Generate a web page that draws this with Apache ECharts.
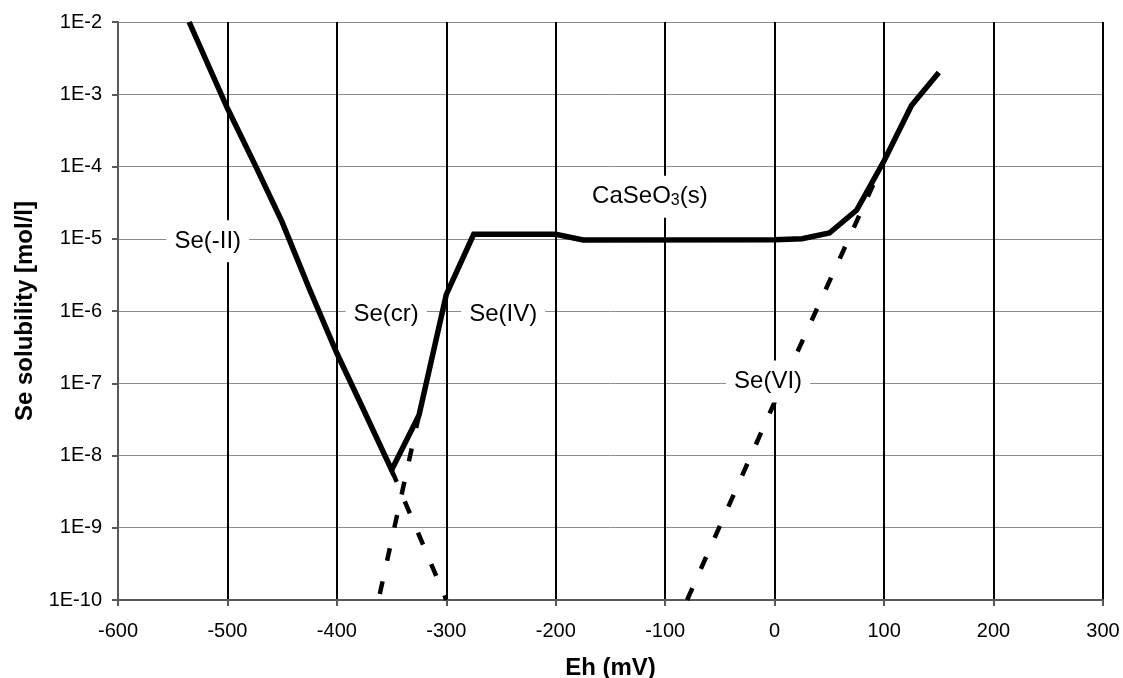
<!DOCTYPE html>
<html>
<head>
<meta charset="utf-8">
<script src="https://cdn.jsdelivr.net/npm/echarts@6/dist/echarts.min.js"></script>
<style>
  html, body { margin: 0; padding: 0; background: #fff; }
  #chart { width: 1123px; height: 678px; }
</style>
</head>
<body>
<div id="chart"></div>
<script>
// Se solubility curve (solid)
const eh = [-535, -500, -475, -450, -425, -400, -375, -350, -325, -300, -275, -200, -175, 0, 25, 50, 75, 100, 125, 150]
const solubility = [1e-2, 6.4e-4, 1.07e-4, 1.7e-5, 2.0e-6, 2.6e-7, 4.1e-8, 6.3e-9, 3.6e-8, 1.7e-6, 1.15e-5, 1.15e-5, 9.6e-6, 9.7e-6, 1.0e-5, 1.2e-5, 2.5e-5, 1.2e-4, 7.0e-4, 2.0e-3]

// dashed extensions
const se2Eh = [-350, -300]
const se2Sol = [6.3e-9, 1e-10]
const se4Eh = [-325, -362]
const se4Sol = [3.6e-8, 1e-10]
const se6Eh = [-80, 0, 100]
const se6Sol = [1e-10, 5.5e-8, 1.2e-4]

// region labels
const labelText = ["Se(-II)", "Se(cr)", "Se(IV)", "CaSeO{sub|3}(s)", "Se(VI)"]
const labelEh = [-518, -355, -248, -114, -6]
const labelSol = [9.2e-6, 8.9e-7, 8.9e-7, 3.8e-5, 1.06e-7]

// axis ticks
const xTicks = [-600, -500, -400, -300, -200, -100, 0, 100, 200, 300]
const yTickLabels = ["1E-10", "1E-9", "1E-8", "1E-7", "1E-6", "1E-5", "1E-4", "1E-3", "1E-2"]

const font = "'Liberation Sans', Arial, sans-serif"
const pairs = (xs, ys) => xs.map((x, i) => [x, ys[i]])

const dashStyle = { color: "#000", width: 4.5, type: [13, 21], cap: "butt" }

const chart = echarts.init(document.getElementById("chart"))

const option = {
  backgroundColor: "#fff",
  animation: false,
  grid: { left: 118, right: 20, top: 22, bottom: 78, outerBoundsMode: "none", containLabel: false },
  xAxis: {
    type: "value",
    min: xTicks[0],
    max: xTicks[xTicks.length - 1],
    interval: 100,
    name: "Eh (mV)",
    nameLocation: "middle",
    nameGap: 56,
    nameTextStyle: { fontFamily: font, fontSize: 24, fontWeight: "bold", color: "#000" },
    axisLine: { lineStyle: { color: "#595959", width: 2 } },
    axisTick: { show: true, length: 6, lineStyle: { color: "#595959", width: 2 } },
    axisLabel: { fontFamily: font, fontSize: 20, color: "#000", margin: 21 },
    splitLine: { show: true, showMinLine: false, lineStyle: { color: "#000", width: 2 } },
  },
  yAxis: {
    type: "log",
    logBase: 10,
    min: 1e-10,
    max: 1e-2,
    name: "Se solubility [mol/l]",
    nameLocation: "middle",
    nameGap: 80,
    nameRotate: 90,
    nameTextStyle: { fontFamily: font, fontSize: 24, fontWeight: "bold", color: "#000" },
    axisLine: { show: true, onZero: false, lineStyle: { color: "#595959", width: 2 } },
    axisTick: { show: true, length: 6, lineStyle: { color: "#595959", width: 2 } },
    axisLabel: {
      fontFamily: font,
      fontSize: 20,
      color: "#000",
      margin: 16,
      formatter: (v) => yTickLabels[Math.round(Math.log10(v)) + 10],
    },
    splitLine: { show: true, showMinLine: false, lineStyle: { color: "#8c8c8c", width: 1 } },
  },
  series: [
    {
      name: "Se(-II) ext",
      type: "line",
      data: pairs(se2Eh, se2Sol),
      symbol: "none",
      lineStyle: dashStyle,
      z: 3,
    },
    {
      name: "Se(IV) ext",
      type: "line",
      data: pairs(se4Eh, se4Sol),
      symbol: "none",
      lineStyle: dashStyle,
      z: 3,
    },
    {
      name: "Se(VI)",
      type: "line",
      data: pairs(se6Eh, se6Sol),
      symbol: "none",
      lineStyle: dashStyle,
      z: 3,
    },
    {
      name: "solubility",
      type: "line",
      data: pairs(eh, solubility),
      symbol: "none",
      lineStyle: { color: "#000", width: 5.5, join: "miter", cap: "butt" },
      z: 4,
    },
    {
      name: "labels",
      type: "scatter",
      symbolSize: 0,
      z: 10,
      itemStyle: { opacity: 1 },
      data: labelEh.map((x, i) => ({ value: [x, labelSol[i]], name: labelText[i] })),
      label: {
        show: true,
        position: "inside",
        formatter: (p) => p.name,
        fontFamily: font,
        fontSize: 24,
        color: "#000",
        backgroundColor: "#fff",
        padding: [9, 8],
        rich: {
          sub: { fontFamily: font, fontSize: 16, color: "#000", verticalAlign: "bottom", lineHeight: 16 },
        },
      },
      emphasis: { disabled: true },
    },
  ],
}

chart.setOption(option)
</script>
</body>
</html>
